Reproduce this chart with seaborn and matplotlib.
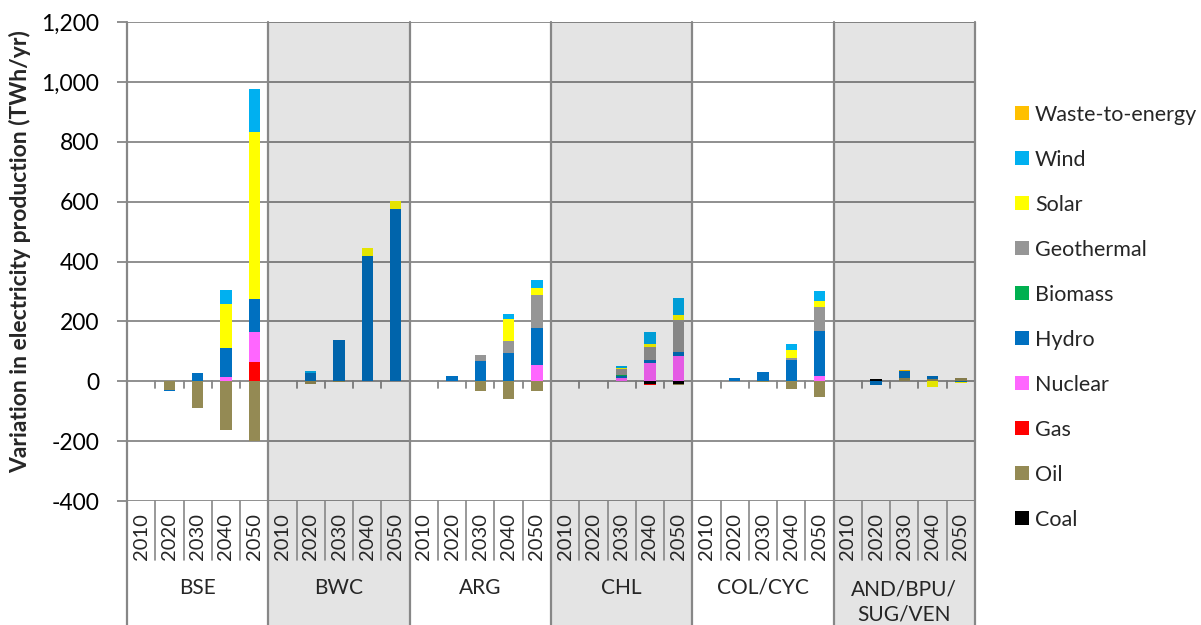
import numpy as np
import matplotlib
matplotlib.use("Agg")
import matplotlib.pyplot as plt
import matplotlib.transforms as mtransforms
from matplotlib.patches import Patch, Rectangle
from matplotlib.lines import Line2D
from matplotlib.ticker import FuncFormatter, MultipleLocator
import seaborn as sns

# Regions and model years (x axis, two levels)
regions = ["BSE", "BWC", "ARG", "CHL", "COL/CYC", "AND/BPU/\nSUG/VEN"]
years = ["2010", "2020", "2030", "2040", "2050"]

# Variation in electricity production (TWh/yr), region by region, 2010..2050
coal = [0, 0, 0, 0, 0,   0, 0, 0, 0, 0,   0, 0, 0, 0, 0,
        0, 0, 0, -10, -10,   0, 0, 0, 0, 0,   0, 8, 0, 0, 0]
oil = [0, -30, -89, -162, -200,   0, -8, -2, 0, 0,   0, 0, -33, -59, -32,
       0, 0, 0, 0, -3,   0, 0, -3, -26, -53,   0, 0, 10, 8, 12]
gas = [0, 0, 0, 0, 65,   0, 0, 0, 0, 0,   0, 0, 0, 0, 0,
       0, 0, 0, -3, 0,   0, 0, 0, 0, 0,   0, 0, 0, 0, 0]
nuclear = [0, 0, 0, 13, 100,   0, 0, 0, 0, 0,   0, 0, 0, 0, 53,
           0, 0, 11, 61, 86,   0, 0, 0, 0, 17,   0, 0, 0, 0, 0]
hydro = [0, -3, 29, 99, 109,   0, 26, 137, 419, 574,   0, 18, 69, 95, 125,
         0, 0, 8, 11, 13,   0, 11, 30, 70, 150,   0, -12, 25, 9, -4]
biomass = [0, 0, 0, 0, 0,   0, 0, 0, 0, 0,   0, 0, 0, 0, 0,
           0, 0, 3, 0, 0,   0, 0, 0, 0, 0,   0, 0, 0, 0, 0]
geothermal = [0, 0, 0, 0, 0,   0, 0, 0, 0, 0,   0, 0, 20, 39, 109,
              0, 0, 19, 41, 107,   0, 0, 0, 6, 81,   0, 0, 0, 0, 0]
solar = [0, 0, 0, 147, 560,   0, 0, 0, 27, 27,   0, 0, 0, 74, 23,
         0, 0, 2, 12, 16,   0, 0, 0, 28, 21,   0, 0, 0, -18, -2]
wind = [0, 0, 0, 45, 141,   0, 8, 2, 0, 0,   0, 0, 0, 16, 29,
        0, 0, 8, 38, 56,   0, 0, 0, 20, 31,   0, 0, 0, 0, 0]
waste = [0, 0, 0, 0, 0,   0, 0, 0, 0, 0,   0, 0, 0, 0, 0,
         0, 0, 0, 0, 0,   0, 0, 1, 0, 0,   0, 1, 1, 0, 0]

# Stacking order (bottom to top) with colours
series = [
    ("Coal", coal, "#000000"),
    ("Oil", oil, "#948A54"),
    ("Gas", gas, "#FF0000"),
    ("Nuclear", nuclear, "#FF66FF"),
    ("Hydro", hydro, "#0070C0"),
    ("Biomass", biomass, "#00B050"),
    ("Geothermal", geothermal, "#969696"),
    ("Solar", solar, "#FFFF00"),
    ("Wind", wind, "#00B0F0"),
    ("Waste-to-energy", waste, "#FFC000"),
]

sns.set_style("white")
plt.rcParams["font.family"] = ["Lato", "DejaVu Sans"]
GRID = "#878787"

W, H = 1201, 625
fig = plt.figure(figsize=(W / 100, H / 100), dpi=100)
ax = fig.add_axes([127 / W, (H - 501) / H, 848 / W, 479 / H])

slots = [f"{r}|{y}" for r in regions for y in years]
vals = np.array([s[1] for s in series], dtype=float)
pos_top = np.clip(vals, 0, None).cumsum(axis=0)
neg_bot = np.clip(vals, None, 0).cumsum(axis=0)

# Stacked bars: draw cumulative heights from the outermost layer inwards
for k in range(len(series) - 1, -1, -1):
    col = series[k][2]
    for cum in (pos_top[k], neg_bot[k]):
        sns.barplot(x=slots, y=cum, order=slots, color=col, saturation=1,
                    width=0.4, errorbar=None, linewidth=0, ax=ax, zorder=3)

n = len(slots)
ax.set_xlim(-0.5, n - 0.5)
ax.set_ylim(-400, 1200)
ax.yaxis.set_major_locator(MultipleLocator(200))
ax.yaxis.set_major_formatter(FuncFormatter(lambda v, p: f"{int(v):,}"))
ax.set_xticks([])
ax.set_xlabel("")
ax.set_ylabel("")
ax.grid(axis="y", color=GRID, lw=1.3, zorder=0)
ax.set_axisbelow(True)
for s in ["top", "right", "bottom", "left"]:
    ax.spines[s].set_visible(False)
ax.tick_params(axis="y", left=True, length=7, width=1.3, color=GRID,
               pad=13, labelsize=16.5, labelcolor="#000000")

trans = mtransforms.blended_transform_factory(ax.transData, ax.transAxes)
bottom_frac = -(H - 501) / 479

# Shaded region columns
for g in (1, 3, 5):
    ax.add_patch(Rectangle((g * 5 - 0.5, bottom_frac), 5, 1 - bottom_frac,
                           transform=trans, facecolor="black", alpha=0.105,
                           lw=0, clip_on=False, zorder=4))

# Column separators for regions (full height) and years (label band)
for i in range(n + 1):
    x = i - 0.5
    if i % 5 == 0:
        ax.add_line(Line2D([x, x], [bottom_frac, 1], transform=trans,
                           color=GRID, lw=1.6, clip_on=False, zorder=5))
    else:
        ax.add_line(Line2D([x, x], [0, -59 / 479], transform=trans,
                           color=GRID, lw=1.2, clip_on=False, zorder=5))
        ax.plot([x, x], [0, -22], color=GRID, lw=1.3, zorder=2)

# Year labels and region labels
for i, lab in enumerate(slots):
    ax.text(i, -36 / 479, lab.split("|")[1], transform=trans, rotation=90,
            ha="center", va="center", fontsize=14.5, zorder=6)
for g, reg in enumerate(regions):
    yc = -87 / 479 if "\n" not in reg else -101 / 479
    ax.text(g * 5 + 2, yc, reg, transform=trans, ha="center", va="center",
            fontsize=15, linespacing=1.3, zorder=6)

fig.text(20 / W, 1 - 252 / H, "Variation in electricity production (TWh/yr)",
         rotation=90, ha="center", va="center", fontsize=16.5, fontweight="bold")

handles = [Patch(facecolor=c, edgecolor="none", label=nm) for nm, _, c in series[::-1]]
fig.legend(handles=handles, loc="upper left", bbox_to_anchor=(1015 / W, 1 - 105 / H),
           frameon=False, fontsize=15.5, handlelength=0.63, handleheight=0.63,
           handletextpad=0.3, labelspacing=1.16, borderpad=0, borderaxespad=0)

fig.savefig("out.png", dpi=100)
